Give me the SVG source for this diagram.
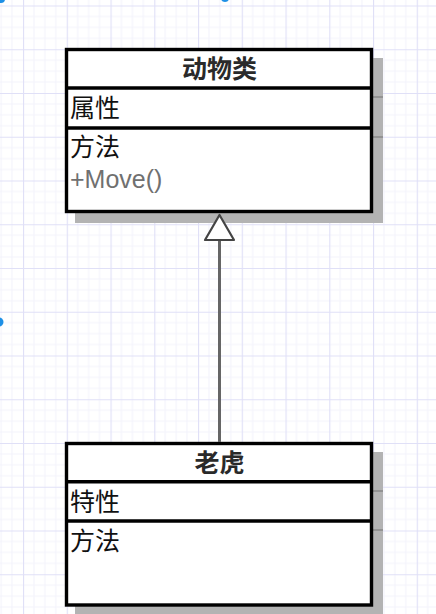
<svg xmlns="http://www.w3.org/2000/svg" width="436" height="614" viewBox="0 0 436 614">
  <defs>
    <pattern id="grid" patternUnits="userSpaceOnUse" x="23" y="5.5" width="43.75" height="43.75">
      <rect width="43.75" height="43.75" fill="#ffffff"/>
      <path d="M10.94 0V43.75M21.88 0V43.75M32.81 0V43.75M0 10.94H43.75M0 21.88H43.75M0 32.81H43.75" stroke="#f3f3fc" stroke-width="1" fill="none"/>
      <path d="M0.5 0V43.75M0 0.5H43.75" stroke="#e0e0f7" stroke-width="1.2" fill="none"/>
    </pattern>
    <marker id="inherit" markerUnits="userSpaceOnUse" markerWidth="30" markerHeight="34" refX="27" refY="16" orient="auto" viewBox="0 0 30 32">
      <path d="M27 16 L2 1.5 L2 30.5 Z" fill="#ffffff" stroke="#444444" stroke-width="2.2" stroke-linejoin="round"/>
    </marker>
  </defs>
  <style>
    .shadow { fill: #b3b3b3; }
    .box { fill: #ffffff; stroke: #000000; stroke-width: 3.4; }
    .div { stroke: #000000; stroke-width: 3.4; }
    .shline { stroke: #888888; stroke-width: 1.5; }
    .title { font-family: "Liberation Sans", "Noto Sans CJK SC", sans-serif; font-size: 25px; font-weight: bold; fill: #2a2a2a; text-anchor: middle; }
    .item { font-family: "Liberation Sans", "Noto Sans CJK SC", sans-serif; font-size: 25px; fill: #111111; }
    .op { font-family: "Liberation Sans", "Noto Sans CJK SC", sans-serif; font-size: 25px; fill: #707070; }
    .handle { fill: #1e90e6; }
  </style>
  <rect width="436" height="614" fill="url(#grid)"/>
  <circle class="handle" cx="1" cy="-1" r="4"/>
  <circle class="handle" cx="225" cy="-2" r="4"/>
  <circle class="handle" cx="-1" cy="322" r="4.5"/>

  <g id="animal">
    <rect class="shadow" x="75" y="58" width="308" height="165"/>
    <line class="shline" x1="373" y1="97" x2="383" y2="97"/>
    <line class="shline" x1="373" y1="137" x2="383" y2="137"/>
    <rect class="box" x="66.5" y="49.5" width="305" height="162"/>
    <line class="div" x1="66.5" y1="88" x2="371.5" y2="88"/>
    <line class="div" x1="66.5" y1="128" x2="371.5" y2="128"/>
    <text class="title" x="219.5" y="78">动物类</text>
    <text class="item" x="70" y="117">属性</text>
    <text class="item" x="70" y="156">方法</text>
    <text class="op" x="70" y="188">+Move()</text>
  </g>

  <g id="tiger">
    <rect class="shadow" x="75" y="452" width="308" height="165"/>
    <line class="shline" x1="373" y1="491" x2="383" y2="491"/>
    <line class="shline" x1="373" y1="530" x2="383" y2="530"/>
    <rect class="box" x="66.5" y="443.5" width="305" height="161.5"/>
    <line class="div" x1="66.5" y1="481.7" x2="371.5" y2="481.7"/>
    <line class="div" x1="66.5" y1="521" x2="371.5" y2="521"/>
    <text class="title" x="219.5" y="472">老虎</text>
    <text class="item" x="70" y="511">特性</text>
    <text class="item" x="70" y="550">方法</text>
  </g>

  <g id="connectors">
    <line x1="219.5" y1="442" x2="219.5" y2="215" stroke="#666666" stroke-width="3" marker-end="url(#inherit)"/>
  </g>
</svg>
